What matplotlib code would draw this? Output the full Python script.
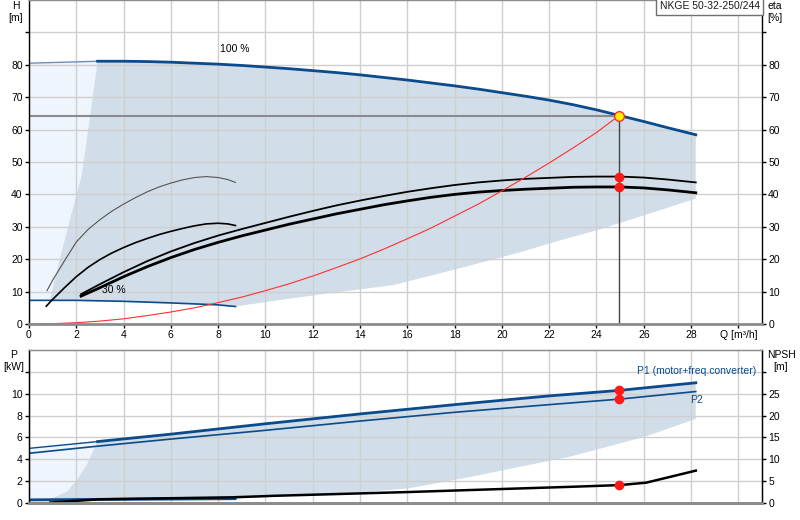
"""Pump curve chart: NKGE 50-32-250/244 (head, power, NPSH)."""
import numpy as np
import matplotlib
matplotlib.use("Agg")
import matplotlib.pyplot as plt

plt.rcParams['font.family'] = ['Liberation Sans', 'DejaVu Sans']

DARK = "#0b4a8b"
SHADE = "#d1dde8"
LIGHT = "#eef5fd"
GRID = "#cfcfcf"
SPINE_GRAY = "#8c8c8c"

# ---- head curves [Q m3/h, H m]
q_100 = [0, 1, 2, 2.9, 4, 5, 6, 7, 8, 9, 10, 11, 12, 13, 14, 15, 16, 17, 18, 19, 20,
         21, 22, 23, 24, 25, 26, 27, 28.2]
h_100 = [80.5, 80.7, 80.9, 81.1, 81.1, 81.0, 80.8, 80.5, 80.2, 79.8, 79.3, 78.8, 78.2,
         77.6, 76.9, 76.1, 75.3, 74.4, 73.5, 72.5, 71.4, 70.3, 69.1, 67.7, 66.1, 64.3,
         62.5, 60.6, 58.4]
q_30 = [0, 2, 4, 6, 8, 8.73]
h_30 = [7.3, 7.3, 7.0, 6.5, 5.9, 5.4]
q_minflow = [0.87, 1.3, 1.72, 2.05, 2.23, 2.58, 2.9]
h_minflow = [7.2, 20, 32, 41, 46, 64, 81.1]
q_low = [8.73, 10.6, 12.5, 15.4, 18, 20.8, 22.5, 24, 26, 28.2]
h_low = [5.4, 7.4, 9.3, 12.0, 16.8, 22.2, 25.9, 28.9, 33.5, 38.7]

q_sp1 = [0.76, 1.0, 1.5, 2, 2.5, 3, 3.5, 4, 4.5, 5, 5.5, 6, 6.5, 7, 7.5, 8, 8.4, 8.73]
h_sp1 = [10.3, 13.5, 19.5, 25.3, 29.2, 32.2, 34.8, 37.0, 39.0, 40.8, 42.3, 43.5, 44.5,
         45.2, 45.5, 45.2, 44.6, 43.7]
q_sp2 = [0.73, 1, 1.5, 2, 2.5, 3, 3.5, 4, 4.5, 5, 5.5, 6, 6.5, 7, 7.5, 8, 8.4, 8.73]
h_sp2 = [5.5, 7.6, 11.2, 14.6, 17.5, 19.9, 21.9, 23.6, 25.1, 26.4, 27.6, 28.6, 29.5,
         30.3, 30.9, 31.1, 30.9, 30.4]
q_sp = [2.2, 3, 4, 5, 6, 7, 8, 9, 10, 11, 12, 13, 14, 15, 16, 17, 18, 19, 20, 21, 22,
        23, 24, 25, 26, 27, 28.2]
h_upper = [9.2, 12.3, 16.0, 19.4, 22.4, 25.0, 27.3, 29.3, 31.2, 33.1, 34.9, 36.6, 38.1,
           39.5, 40.8, 41.9, 42.9, 43.7, 44.3, 44.8, 45.1, 45.4, 45.5, 45.5, 45.2, 44.6, 43.7]
h_lower = [8.6, 11.2, 14.6, 17.7, 20.5, 23.0, 25.2, 27.2, 29.0, 30.8, 32.4, 34.0, 35.4,
           36.8, 38.0, 39.1, 40.0, 40.7, 41.2, 41.6, 41.9, 42.2, 42.3, 42.3, 42.0, 41.4, 40.5]

q_sys = [0, 1, 2, 3, 4, 5, 6, 7, 8, 9, 10, 11, 12, 13, 14, 15, 16, 17, 18, 19, 20, 21,
         22, 23, 24, 24.95]
h_sys = [0, 0.1, 0.4, 0.9, 1.6, 2.6, 3.7, 5.0, 6.6, 8.3, 10.3, 12.4, 14.8, 17.4, 20.1,
         23.1, 26.3, 29.6, 33.3, 37.0, 41.1, 45.3, 49.7, 54.3, 59.1, 64.3]

duty_q = 24.95
duty_h = 64.3
duty_h_upper = 45.5
duty_h_lower = 42.3

# ---- power [kW] and NPSH [m]
q_p = [0, 2.9, 6, 10, 14, 18, 22, 24.95, 28.2]
p1 = [5.0, 5.62, 6.3, 7.25, 8.15, 9.0, 9.8, 10.3, 11.0]
p2 = [4.55, 5.2, 5.85, 6.65, 7.5, 8.3, 9.0, 9.5, 10.2]
q_p30 = [0, 4, 8.73]
p1_30 = [0.32, 0.38, 0.45]
p2_30 = [0.25, 0.3, 0.36]
q_pmin = [0.5, 1.0, 1.6, 2.02, 2.44, 2.9]
p_pmin = [0.32, 0.45, 1.04, 2.1, 3.5, 5.62]
q_plow = [0.5, 8.73, 10.2, 14.4, 16.1, 18.7, 20.8, 22.9, 26.1, 28.2]
p_plow = [0.32, 0.43, 0.58, 1.04, 1.35, 2.4, 3.33, 4.25, 6.1, 7.7]
q_npsh = [0.9, 3, 8.6, 10.4, 16, 20, 22.9, 25, 26.1, 28.2]
npsh = [0.1, 0.85, 1.3, 1.65, 2.5, 3.2, 3.7, 4.1, 4.65, 7.4]

duty_p1 = 10.3
duty_p2 = 9.5
duty_npsh = 4.1

W, H = 800, 520
fig = plt.figure(figsize=(8, 5.2), dpi=100)
ax1 = fig.add_axes([29 / W, 1 - 324 / H, 733 / W, 324 / H])
ax2 = fig.add_axes([29 / W, 1 - 503 / H, 733 / W, 153 / H])
ax2r = ax2.twinx()


def style(ax, xlabels):
    ax.set_xlim(0, 31)
    ax.set_xticks(np.arange(0, 31, 2))
    ax.grid(True, color=GRID, lw=1)
    for s in ("left", "right"):
        ax.spines[s].set_color("black")
        ax.spines[s].set_linewidth(1)
    ax.spines["bottom"].set_color(SPINE_GRAY)
    ax.spines["bottom"].set_linewidth(2)
    ax.spines["top"].set_color(SPINE_GRAY)
    ax.spines["top"].set_linewidth(1)
    ax.tick_params(labelsize=7.5, length=3, width=1, pad=1.5)
    if xlabels:
        ax.set_xticklabels([str(v) for v in range(0, 29, 2)] + ["Q [m³/h]"])
    else:
        ax.tick_params(axis="x", length=0, labelbottom=False)


# ---------------- top: head
style(ax1, True)
ax1.set_ylim(0, 100)
ax1.set_yticks(np.arange(0, 91, 10))
ax1.set_yticklabels([str(v) for v in range(0, 81, 10)] + [""])
ax1.tick_params(axis="y", which="both", right=True, labelright=True)

# light area left of min-flow line
i29 = q_100.index(2.9)
lx = q_100[:i29 + 1] + q_minflow[::-1] + [0]
ly = h_100[:i29 + 1] + h_minflow[::-1] + [np.interp(0, q_30, h_30)]
ax1.fill(lx, ly, color=LIGHT, lw=0)

# shaded operating range
h30_at_min = float(np.interp(q_minflow[0], q_30, h_30))
back = [(q, h) for q, h in zip(q_30[::-1], h_30[::-1]) if q_minflow[0] < q < q_low[0]]
sx = q_minflow + q_100[i29 + 1:] + q_low[::-1] + [q for q, _ in back] + [q_minflow[0]]
sy = h_minflow + h_100[i29 + 1:] + h_low[::-1] + [h for _, h in back] + [h30_at_min]
ax1.fill(sx, sy, color=SHADE, lw=0)

ax1.plot(q_100[:i29 + 1], h_100[:i29 + 1], color="#6d8fb8", lw=1)
ax1.plot(q_100[i29:], h_100[i29:], color=DARK, lw=2)
ax1.plot(q_30, h_30, color=DARK, lw=1.2)
ax1.plot(q_sp1, h_sp1, color="#555555", lw=0.8)
ax1.plot(q_sp2, h_sp2, color="black", lw=1.2)
ax1.plot(q_sp, h_upper, color="black", lw=1.3)
ax1.plot(q_sp, h_lower, color="black", lw=2)
ax1.plot(q_sys, h_sys, color="#ff3030", lw=0.8)

ax1.plot([0, duty_q], [duty_h, duty_h], color="#8a8a8a", lw=1.5, zorder=2.5)
ax1.plot([duty_q, duty_q], [0, duty_h], color="#444444", lw=1, zorder=2.5)
ax1.plot([duty_q, duty_q], [duty_h_upper, duty_h_lower], "o", color="#ff1a1a", ms=6, zorder=4)
ax1.plot(duty_q, duty_h, "o", mfc="#ffee00", mec="#ff3030", ms=7, mew=1, zorder=4)

ax1.text(8.7, 83.2, "100 %", fontsize=7.5, ha="center", va="bottom")
ax1.text(3.6, 8.8, "30 %", fontsize=7.5, ha="center", va="bottom")
ax1.text(0.997, 0.997, "NKGE 50-32-250/244", transform=ax1.transAxes, fontsize=7.5,
         ha="right", va="top", color="#1a1a1a", zorder=5,
         bbox=dict(boxstyle="square,pad=0.35", fc="white", ec="#707070", lw=1))

# ---------------- bottom: power and NPSH
style(ax2, False)
ax2.set_ylim(0, 14)
ax2.set_yticks(np.arange(0, 13, 2))
ax2.set_yticklabels([str(v) for v in range(0, 11, 2)] + [""])
ax2r.set_ylim(0, 35)
ax2r.set_yticks(np.arange(0, 31, 5))
ax2r.set_yticklabels([str(v) for v in range(0, 26, 5)] + [""])
ax2r.tick_params(labelsize=7.5, length=3, width=1, pad=1.5)
for s in ("left", "right"):
    ax2r.spines[s].set_color("black")
ax2r.spines["bottom"].set_color(SPINE_GRAY)
ax2r.spines["bottom"].set_linewidth(2)
ax2r.spines["top"].set_color(SPINE_GRAY)

j29 = q_p.index(2.9)
lx = q_p[:j29 + 1] + q_pmin[::-1] + [0]
ly = p1[:j29 + 1] + p_pmin[::-1] + [p1_30[0]]
ax2.fill(lx, ly, color=LIGHT, lw=0)
sx = q_pmin + q_p[j29 + 1:] + q_plow[::-1][:-1]
sy = p_pmin + p1[j29 + 1:] + p_plow[::-1][:-1]
ax2.fill(sx, sy, color=SHADE, lw=0)

ax2.plot(q_p[:j29 + 1], p1[:j29 + 1], color=DARK, lw=1)
ax2.plot(q_p[j29:], p1[j29:], color=DARK, lw=2)
ax2.plot(q_p, p2, color=DARK, lw=1.2)
ax2.plot(q_p30, p1_30, color=DARK, lw=1.5)
ax2.plot(q_p30, p2_30, color=DARK, lw=1.5)
ax2.plot([duty_q, duty_q], [duty_p1, duty_p2], "o", color="#ff1a1a", ms=6, zorder=4)
ax2.text(25.7, 11.6, "P1 (motor+freq.converter)", fontsize=7.5, color=DARK, va="bottom")
ax2.text(27.95, 9.85, "P2", fontsize=7.5, color=DARK, va="top")

ax2r.plot(q_npsh, npsh, color="black", lw=1.8)
ax2r.plot(duty_q, duty_npsh, "o", color="#ff1a1a", ms=6, zorder=4)

# axis captions
fig.text(16 / W, 1 - 12 / H, "H\n[m]", fontsize=7.5, ha="center", va="center", linespacing=1.2)
fig.text(775 / W, 1 - 12 / H, "eta\n[%]", fontsize=7.5, ha="center", va="center", linespacing=1.2)
fig.text(14 / W, 1 - 361 / H, "P\n[kW]", fontsize=7.5, ha="center", va="center", linespacing=1.2)
fig.text(781 / W, 1 - 361 / H, "NPSH\n[m]", fontsize=7.5, ha="center", va="center", linespacing=1.2)

fig.savefig("out.png", dpi=100, facecolor="white")
